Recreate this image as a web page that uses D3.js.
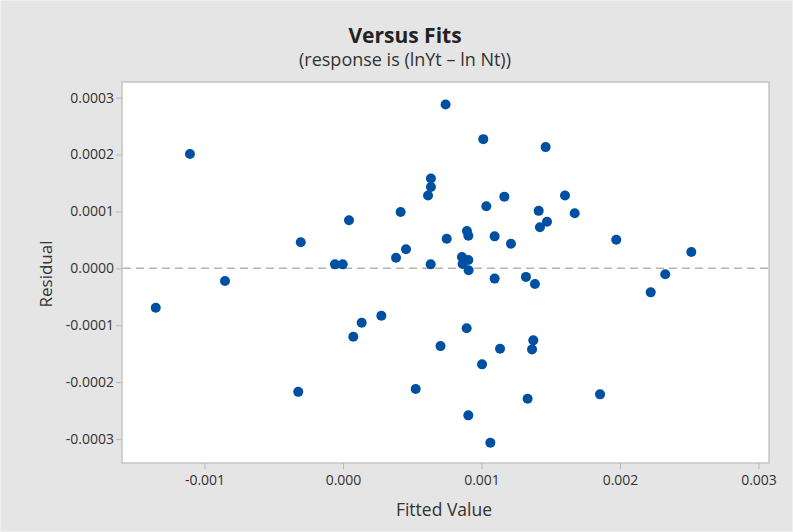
<!DOCTYPE html>
<html><head><meta charset="utf-8">
<script src="https://cdn.jsdelivr.net/npm/d3@7"></script>
<style>
body{margin:0;background:#e5e5e5;}
svg{display:block;}
text{font-family:"Open Sans",sans-serif;}
</style></head>
<body><svg id="c" width="793" height="532"></svg>
<script>
const fittedValues = [-0.001352,-0.001105,-0.000852,-0.000323,-0.000305,0.0000433,-0.0000578,-0.0000022,0.0000744,0.000135,0.000277,0.000383,0.000455,0.000416,0.000525,0.000635,0.000635,0.000614,0.000633,0.000704,0.000741,0.000749,0.000859,0.000905,0.000864,0.000907,0.000895,0.000905,0.000893,0.000905,0.001004,0.001013,0.001035,0.001064,0.001095,0.001095,0.001134,0.001165,0.001213,0.001321,0.001333,0.001365,0.001374,0.001386,0.001413,0.001422,0.001463,0.001473,0.001603,0.001673,0.001856,0.001973,0.002222,0.002327,0.002515];
const residuals = [-0.0000692,0.000201,-0.0000223,-0.000217,0.0000458,0.0000844,0.000007,0.000007,-0.0001202,-0.0000956,-0.0000833,0.0000186,0.0000334,0.0000989,-0.0002121,0.000158,0.000143,0.000128,0.000007,-0.0001366,0.000288,0.000052,0.0000199,0.0000146,0.0000076,-0.0000035,0.0000656,0.0000573,-0.0001054,-0.0002583,-0.0001687,0.000227,0.000109,-0.0003065,0.0000562,-0.000018,-0.0001413,0.000126,0.0000432,-0.000015,-0.0002292,-0.0001424,-0.0001265,-0.0000276,0.000101,0.0000721,0.000213,0.0000819,0.000128,0.0000967,-0.0002214,0.0000503,-0.0000422,-0.0000105,0.0000286];
const xTicks = [-0.001,0.000,0.001,0.002,0.003];
const yTicks = [0.0003,0.0002,0.0001,0,-0.0001,-0.0002,-0.0003];
const titleText = "Versus Fits";
const subtitleText = "(response is (lnYt \u2013 ln Nt))";
const xLabel = "Fitted Value";
const yLabel = "Residual";

const svg = d3.select("#c");
const L=122, R=769, T=82, B=463;
const x = d3.scaleLinear().domain([-0.0015957,0.003076]).range([L,R]);
const y = d3.scaleLinear().domain([-0.000342,0.0003274]).range([B,T]);

svg.append("rect").attr("x",0.5).attr("y",0.5).attr("width",792).attr("height",531).attr("fill","#e5e5e5").attr("stroke","#f0f0f0");
svg.append("rect").attr("x",L).attr("y",T).attr("width",R-L).attr("height",B-T).attr("fill","#fff").attr("stroke","#c4c4c4").attr("stroke-width",1.5);

const xa = svg.append("g").attr("transform",`translate(0,${B})`)
  .call(d3.axisBottom(x).tickValues(xTicks).tickFormat(d=>d3.format(".3f")(d).replace("\u2212","-")).tickSize(6).tickPadding(6));
const ya = svg.append("g").attr("transform",`translate(${L},0)`)
  .call(d3.axisLeft(y).tickValues(yTicks).tickFormat(d=>d3.format(".4f")(d).replace("\u2212","-")).tickSize(6).tickPadding(2));
[xa,ya].forEach(a=>{
  a.select(".domain").remove();
  a.selectAll(".tick line").attr("stroke","#b8b8b8");
  a.selectAll(".tick text").attr("fill","#333").style("font-size","14px").style("font-family","'Open Sans',sans-serif");
});

svg.append("line").attr("x1",L+1).attr("x2",R-1).attr("y1",y(0)).attr("y2",y(0))
  .attr("stroke","#b4b4b4").attr("stroke-width",1.5).attr("stroke-dasharray","8,5");

const pts = fittedValues.map((v,i)=>({x:v,y:residuals[i]}));
svg.append("g").selectAll("circle").data(pts).join("circle")
  .attr("cx",d=>x(d.x)).attr("cy",d=>y(d.y)).attr("r",5).attr("fill","#0050a2");

svg.append("text").attr("x",405).attr("y",43).attr("text-anchor","middle")
  .style("font-size","21px").style("font-weight","bold").attr("fill","#222").text(titleText);
svg.append("text").attr("x",405).attr("y",66).attr("text-anchor","middle")
  .style("font-size","18px").attr("fill","#333").text(subtitleText);
svg.append("text").attr("x",444).attr("y",516).attr("text-anchor","middle")
  .style("font-size","17.5px").attr("fill","#333").text(xLabel);
svg.append("text").attr("transform","translate(52,274) rotate(-90)").attr("text-anchor","middle")
  .style("font-size","17px").attr("fill","#333").text(yLabel);
</script></body></html>
